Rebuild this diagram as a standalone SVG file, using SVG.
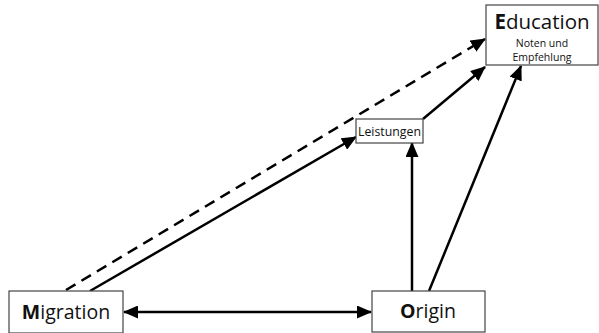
<svg xmlns="http://www.w3.org/2000/svg" width="599" height="333" viewBox="0 0 599 333">
<defs>
<marker id="ah" markerUnits="userSpaceOnUse" markerWidth="15" markerHeight="13" refX="14" refY="6.5" orient="auto-start-reverse" viewBox="0 0 15 13">
<path d="M0,0 L15,6.5 L0,13 Z" fill="#000"/>
</marker>
<style>
.box{fill:#fff;stroke:#444;stroke-width:1.2}
.lbl{font-family:"Open Sans","Liberation Sans",sans-serif;fill:#111}
.c{stroke:#000;stroke-width:2.5;fill:none}
</style>
</defs>
<rect width="599" height="333" fill="#fff"/>
<g id="connectors">
<line class="c" x1="66" y1="290" x2="485" y2="39" stroke-dasharray="11,7" marker-end="url(#ah)"/>
<line class="c" x1="90" y1="291" x2="356" y2="137" marker-end="url(#ah)"/>
<line class="c" x1="423" y1="119" x2="485" y2="67" marker-end="url(#ah)"/>
<line class="c" x1="412" y1="291" x2="412" y2="143" marker-end="url(#ah)"/>
<line class="c" x1="429" y1="291" x2="521" y2="66" marker-end="url(#ah)"/>
<line class="c" x1="124" y1="312" x2="371" y2="312" marker-start="url(#ah)" marker-end="url(#ah)"/>
</g>
<g id="education">
<rect class="box" x="486" y="5" width="112" height="60"/>
<text class="lbl" x="542" y="29" font-size="20.5" text-anchor="middle"><tspan font-weight="bold">E</tspan>ducation</text>
<text class="lbl" x="542" y="47" font-size="10.5" text-anchor="middle">Noten und</text>
<text class="lbl" x="542" y="61" font-size="10.5" text-anchor="middle">Empfehlung</text>
</g>
<g id="leistungen">
<rect class="box" x="356" y="119" width="67" height="24"/>
<text class="lbl" x="389.5" y="136" font-size="12.5" text-anchor="middle" textLength="63" lengthAdjust="spacingAndGlyphs">Leistungen</text>
</g>
<g id="migration">
<rect class="box" x="9" y="291" width="114" height="42"/>
<text class="lbl" x="66" y="319" font-size="19.5" text-anchor="middle"><tspan font-weight="bold">M</tspan>igration</text>
</g>
<g id="origin">
<rect class="box" x="372" y="291" width="113" height="41"/>
<text class="lbl" x="428" y="318" font-size="19.5" text-anchor="middle"><tspan font-weight="bold">O</tspan>rigin</text>
</g>
</svg>
